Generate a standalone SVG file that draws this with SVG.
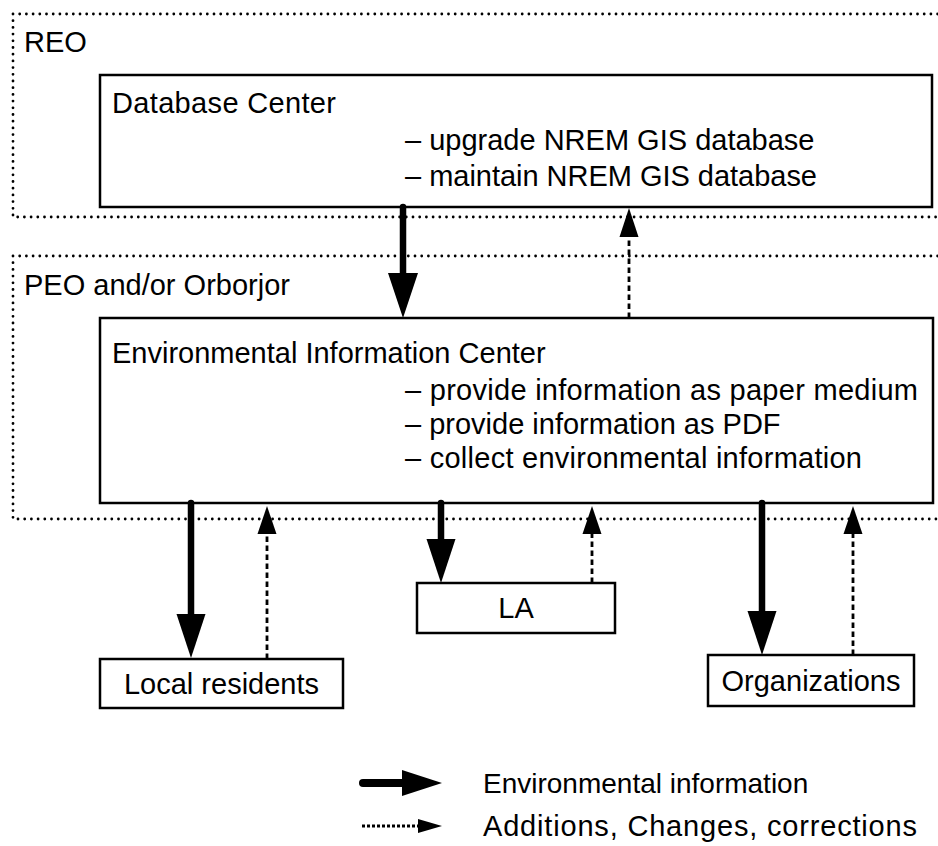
<svg xmlns="http://www.w3.org/2000/svg" width="938" height="846" viewBox="0 0 938 846">
<style>
text{font-family:"Liberation Sans",Arial,sans-serif;font-size:29px;fill:#000}
.grp{fill:none;stroke:#000;stroke-width:2.8;stroke-dasharray:0 6.7;stroke-linecap:round}
.box{fill:#fff;stroke:#000;stroke-width:2.5}
.thick{stroke:#000;stroke-width:6.5;stroke-linecap:round;fill:none}
.dash{stroke:#000;stroke-width:2.8;stroke-dasharray:5.5 3.5;fill:none}
.head{fill:#000}
.mid{text-anchor:middle}
</style>
<g id="reo-group">
<path class="grp" d="M13,14 H938 M13,14 V217 H938"/>
<text x="24" y="52">REO</text>
</g>
<g id="peo-group">
<path class="grp" d="M13,256 H938 M13,256 V519 H938"/>
<text x="24" y="295">PEO and/or Orborjor</text>
</g>
<g id="database-center">
<rect class="box" x="100" y="75" width="832" height="132"/>
<text x="112" y="113" textLength="224" lengthAdjust="spacing">Database Center</text>
<text x="405" y="150">– upgrade NREM GIS database</text>
<text x="405" y="186" textLength="412" lengthAdjust="spacing">– maintain NREM GIS database</text>
</g>
<g id="env-info-center">
<rect class="box" x="100" y="318" width="833" height="185"/>
<text x="112" y="363">Environmental Information Center</text>
<text x="405" y="400" textLength="513" lengthAdjust="spacing">– provide information as paper medium</text>
<text x="405" y="434">– provide information as PDF</text>
<text x="405" y="468" textLength="457" lengthAdjust="spacing">– collect environmental information</text>
</g>
<g id="local-residents">
<rect class="box" x="100" y="659" width="243" height="49"/>
<text class="mid" x="221.5" y="694">Local residents</text>
</g>
<g id="la">
<rect class="box" x="417" y="583" width="198" height="50"/>
<text class="mid" x="516" y="618">LA</text>
</g>
<g id="organizations">
<rect class="box" x="708" y="655" width="206" height="51"/>
<text class="mid" x="811" y="691">Organizations</text>
</g>
<g id="connectors">
<line class="thick" x1="403" y1="207" x2="403" y2="276"/>
<polygon class="head" points="388,273 418,273 403,318"/>
<line class="dash" x1="629" y1="318" x2="629" y2="236"/>
<polygon class="head" points="619.5,237 638.5,237 629,208"/>
<line class="thick" x1="191" y1="503" x2="191" y2="617"/>
<polygon class="head" points="176.5,614 205.5,614 191,658"/>
<line class="dash" x1="267" y1="659" x2="267" y2="533"/>
<polygon class="head" points="257.5,534 276.5,534 267,506"/>
<line class="thick" x1="441" y1="503" x2="441" y2="542"/>
<polygon class="head" points="426.5,539 455.5,539 441,583"/>
<line class="dash" x1="592" y1="583" x2="592" y2="533"/>
<polygon class="head" points="582.5,534 601.5,534 592,506"/>
<line class="thick" x1="762" y1="503" x2="762" y2="614"/>
<polygon class="head" points="747.5,611 776.5,611 762,655"/>
<line class="dash" x1="853" y1="655" x2="853" y2="533"/>
<polygon class="head" points="843.5,534 862.5,534 853,506"/>
</g>
<g id="legend">
<line x1="363" y1="783" x2="406" y2="783" stroke="#000" stroke-width="8" stroke-linecap="round"/>
<polygon class="head" points="402,770 442,783 402,796"/>
<text x="483" y="793" style="font-size:28px">Environmental information</text>
<line x1="362" y1="826" x2="420" y2="826" stroke="#000" stroke-width="2.8" stroke-dasharray="3 2"/>
<polygon class="head" points="418,819 442,826 418,833"/>
<text x="483" y="836" textLength="434" lengthAdjust="spacing">Additions, Changes, corrections</text>
</g>
</svg>
